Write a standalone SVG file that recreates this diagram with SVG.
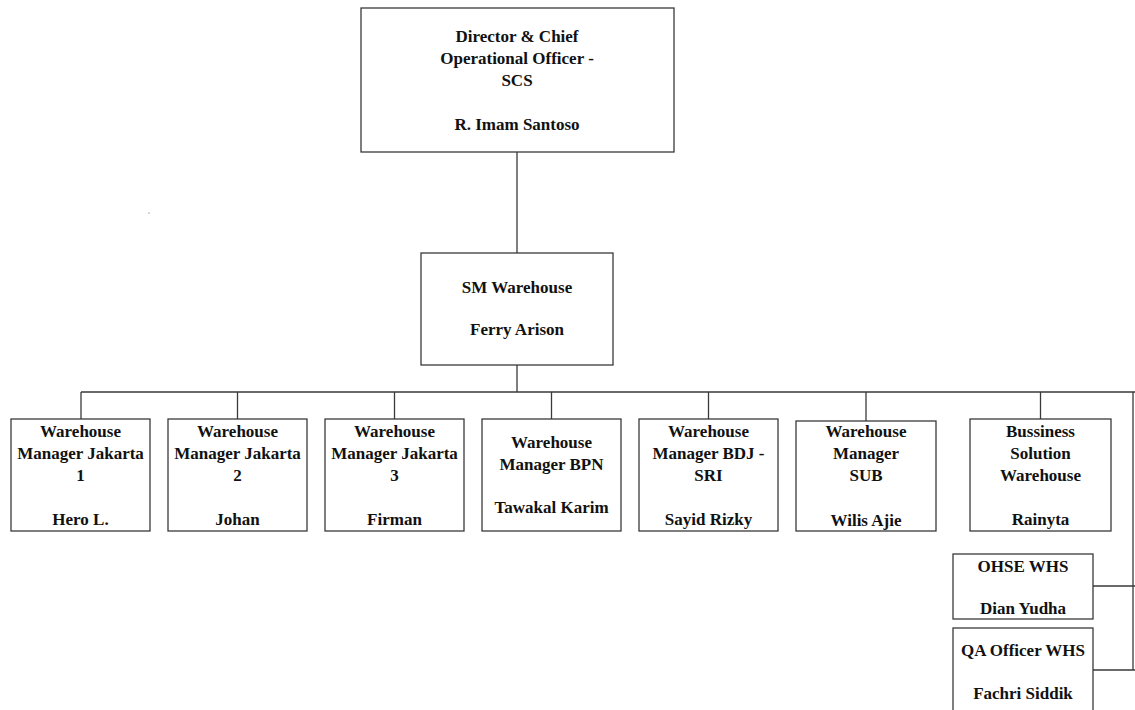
<svg xmlns="http://www.w3.org/2000/svg" width="1135" height="710" viewBox="0 0 1135 710">
<style>
.b{fill:#fff;stroke:#3a3a3a;stroke-width:1.3}
.c{fill:none;stroke:#3a3a3a;stroke-width:1.3}
text{font-family:"Liberation Serif","Times New Roman",serif;font-weight:bold;font-size:17px;fill:#111;text-anchor:middle}
</style>
<rect width="1135" height="710" fill="#fff"/>
<g id="connectors">
<path class="c" d="M517 152V253M517 365V392M81 392H1135M81 392V419M237.5 392V419M394.5 392V419M551.5 392V419M708.5 392V419M866 392V421M1040.5 392V419M1133 392V670M1093 586H1135M1093 670H1135"/>
</g>
<circle cx="149" cy="213" r="0.6" fill="#555"/>
<g id="director"><rect class="b" x="361" y="8" width="313" height="144"/>
<text x="517" y="42">Director &amp; Chief</text><text x="517" y="64">Operational Officer -</text><text x="517" y="86">SCS</text><text x="517" y="130">R. Imam Santoso</text></g>
<g id="sm-warehouse"><rect class="b" x="421" y="253" width="192" height="112"/>
<text x="517" y="293">SM Warehouse</text><text x="517" y="335">Ferry Arison</text></g>
<g id="wm-jkt1"><rect class="b" x="11" y="419" width="139" height="112"/>
<text x="80.5" y="437">Warehouse</text><text x="80.5" y="459">Manager Jakarta</text><text x="80.5" y="481">1</text><text x="80.5" y="525">Hero L.</text></g>
<g id="wm-jkt2"><rect class="b" x="168" y="419" width="139" height="112"/>
<text x="237.5" y="437">Warehouse</text><text x="237.5" y="459">Manager Jakarta</text><text x="237.5" y="481">2</text><text x="237.5" y="525">Johan</text></g>
<g id="wm-jkt3"><rect class="b" x="325" y="419" width="139" height="112"/>
<text x="394.5" y="437">Warehouse</text><text x="394.5" y="459">Manager Jakarta</text><text x="394.5" y="481">3</text><text x="394.5" y="525">Firman</text></g>
<g id="wm-bpn"><rect class="b" x="482" y="419" width="139" height="112"/>
<text x="551.5" y="448">Warehouse</text><text x="551.5" y="470">Manager BPN</text><text x="551.5" y="513">Tawakal Karim</text></g>
<g id="wm-bdj"><rect class="b" x="639" y="419" width="139" height="112"/>
<text x="708.5" y="437">Warehouse</text><text x="708.5" y="459">Manager BDJ -</text><text x="708.5" y="481">SRI</text><text x="708.5" y="525">Sayid Rizky</text></g>
<g id="wm-sub"><rect class="b" x="796" y="421" width="140" height="110"/>
<text x="866" y="437">Warehouse</text><text x="866" y="459">Manager</text><text x="866" y="481">SUB</text><text x="866" y="526">Wilis Ajie</text></g>
<g id="bs-warehouse"><rect class="b" x="970" y="419" width="141" height="112"/>
<text x="1040.5" y="437">Bussiness</text><text x="1040.5" y="459">Solution</text><text x="1040.5" y="481">Warehouse</text><text x="1040.5" y="525">Rainyta</text></g>
<g id="ohse"><rect class="b" x="953" y="554" width="140" height="65"/>
<text x="1023" y="572">OHSE WHS</text><text x="1023" y="614">Dian Yudha</text></g>
<g id="qa"><rect class="b" x="953" y="628" width="140" height="90"/>
<text x="1023" y="656">QA Officer WHS</text><text x="1023" y="699">Fachri Siddik</text></g>
</svg>
